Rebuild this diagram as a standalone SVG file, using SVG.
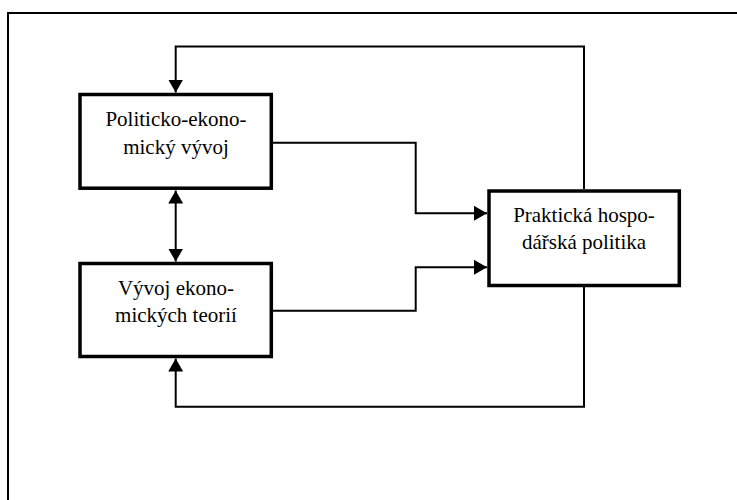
<svg xmlns="http://www.w3.org/2000/svg" width="737" height="500" viewBox="0 0 737 500">
<style>
.box{fill:#fff;stroke:#000;stroke-width:3.5}
.t{font-family:"Liberation Serif","Times New Roman",serif;font-size:21px;fill:#000;text-anchor:middle}
.c{fill:none;stroke:#000;stroke-width:2}
</style>
<defs>
<marker id="ah" markerUnits="userSpaceOnUse" markerWidth="13" markerHeight="15" refX="13" refY="7.5" orient="auto-start-reverse" viewBox="0 0 13 15">
<path d="M0,0 L13,7.5 L0,15 z" fill="#000"/>
</marker>
</defs>
<rect x="0" y="0" width="737" height="500" fill="#fff"/>
<path d="M8,510 V13 H750" fill="none" stroke="#000" stroke-width="2"/>
<g id="connectors">
<path class="c" d="M584,189 V46.5 H175.7 V92.5" marker-end="url(#ah)"/>
<path class="c" d="M273,142.7 H415.7 V213.3 H487" marker-end="url(#ah)"/>
<path class="c" d="M273,310.7 H415.7 V267.3 H487" marker-end="url(#ah)"/>
<path class="c" d="M584,287 V406.7 H175.7 V358.5" marker-end="url(#ah)"/>
<path class="c" d="M175.7,190.5 V261.5" marker-start="url(#ah)" marker-end="url(#ah)"/>
</g>
<g id="node1">
<rect class="box" x="80" y="94.5" width="191.3" height="93.7"/>
<text class="t" x="176" y="125.7">Politicko-ekono-</text>
<text class="t" x="176" y="154">mický vývoj</text>
</g>
<g id="node2">
<rect class="box" x="80" y="263.5" width="191.3" height="93"/>
<text class="t" x="176" y="295">Vývoj ekono-</text>
<text class="t" x="176" y="322">mických teorií</text>
</g>
<g id="node3">
<rect class="box" x="489" y="191" width="190.3" height="94.5"/>
<text class="t" x="584" y="222.3">Praktická hospo-</text>
<text class="t" x="584" y="249">dářská politika</text>
</g>
</svg>
